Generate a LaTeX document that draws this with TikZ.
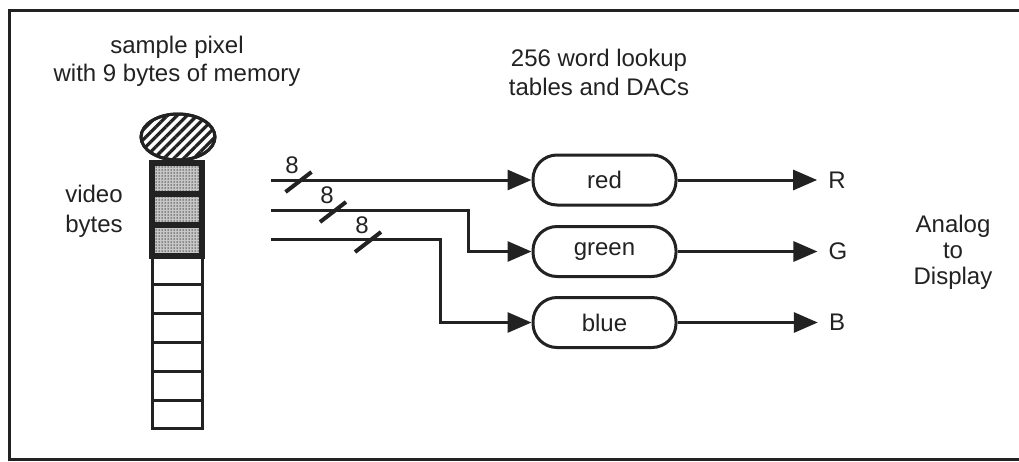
\documentclass[tikz,border=0pt]{standalone}
\usepackage{fontspec}
\setmainfont{Liberation Sans}
\usetikzlibrary{arrows.meta,patterns.meta,calc}
\definecolor{ink}{HTML}{222222}
\begin{document}
\begin{tikzpicture}[x=1pt,y=-1pt,
  ink/.style={draw=ink,line width=3pt},
  lbl/.style={text=ink,font=\fontsize{24}{28}\selectfont,inner sep=0pt,align=center},
  lut/.style={ink,rectangle,rounded corners=24pt,minimum width=143pt,minimum height=50pt,
    text=ink,font=\fontsize{24}{22}\selectfont,inner sep=0pt},
  bus/.style={ink,-{Triangle[length=24pt,width=20pt]}},
  slash/.style={draw=ink,line width=4pt},
  cell/.style={draw=ink,line width=3pt,fill=white},
]
\useasboundingbox (0,0) rectangle (1019,461);
\fill[white] (0,0) rectangle (1019,461);
% frame
\draw[ink] (1019,10) -- (9,10) -- (9,459) -- (1019,459);

% titles
\node[lbl] (t1) at (177,61) {sample pixel\\with 9 bytes of memory};
\node[lbl,font=\fontsize{24}{29}\selectfont] (t2) at (599,72) {256 word lookup\\tables and DACs};
\node[lbl,font=\fontsize{24}{30}\selectfont] (vb) at (94,211) {video\\bytes};
\node[lbl,font=\fontsize{24}{26}\selectfont] (ad) at (953,252) {Analog\\to\\Display};

% pixel ellipse
\path[ink,pattern={Lines[angle=45,distance=7pt,line width=3.2pt]},pattern color=ink]
  (178,137) ellipse [x radius=37, y radius=23];
\draw[ink] (178,137) ellipse [x radius=37, y radius=23];

% white cells
\foreach \i in {0,...,5}{
  \draw[cell] (152,{256+\i*28.83}) rectangle (202,{256+(\i+1)*28.83});
}
% shaded video byte cells
\foreach \i in {0,1,2}{
  \path[fill=black!22] (152,{163+\i*31}) rectangle (202,{163+(\i+1)*31});
  \path[pattern={Dots[distance=3pt,radius=0.75pt]},pattern color=black!75]
    (152,{163+\i*31}) rectangle (202,{163+(\i+1)*31});
  \draw[draw=ink,line width=5.5pt] (152,{163+\i*31}) rectangle (202,{163+(\i+1)*31});
}

% lookup tables
\node[lut] (red) at (604.5,180) {red};
\node[lut] (green) at (604.5,251.5) {green};
\node[lut] (blue) at (604.5,322.5) {blue};

% output labels
\node[lbl] (R) at (837,180) {R};
\node[lbl] (G) at (838,251.5) {G};
\node[lbl] (B) at (837,322.5) {B};

% bus inputs
\coordinate (in1) at (271,180);
\coordinate (in2) at (271,210);
\coordinate (in3) at (271,239);
\coordinate (j2) at (468,210);
\coordinate (j3) at (440,239);

\draw[bus] (in1) -- (red.west);
\draw[bus] (in2) -- (j2) |- (green.west);
\draw[bus] (in3) -- (j3) |- (blue.west);

% bus width marks
\coordinate (s1) at (298.5,182);
\coordinate (s2) at (333,212);
\coordinate (s3) at (368,242);
\foreach \s in {s1,s2,s3}{
  \draw[slash] ($(\s)+(-13,10)$) -- ($(\s)+(13,-10)$);
}
\node[lbl] (n1) at (292,165) {8};
\node[lbl] (n2) at (327,195) {8};
\node[lbl] (n3) at (362,225) {8};

% outputs
\draw[bus,shorten >=11pt] (red.east) -- (R.west);
\draw[bus,shorten >=11pt] (green.east) -- (G.west);
\draw[bus,shorten >=11pt] (blue.east) -- (B.west);
\end{tikzpicture}
\end{document}
